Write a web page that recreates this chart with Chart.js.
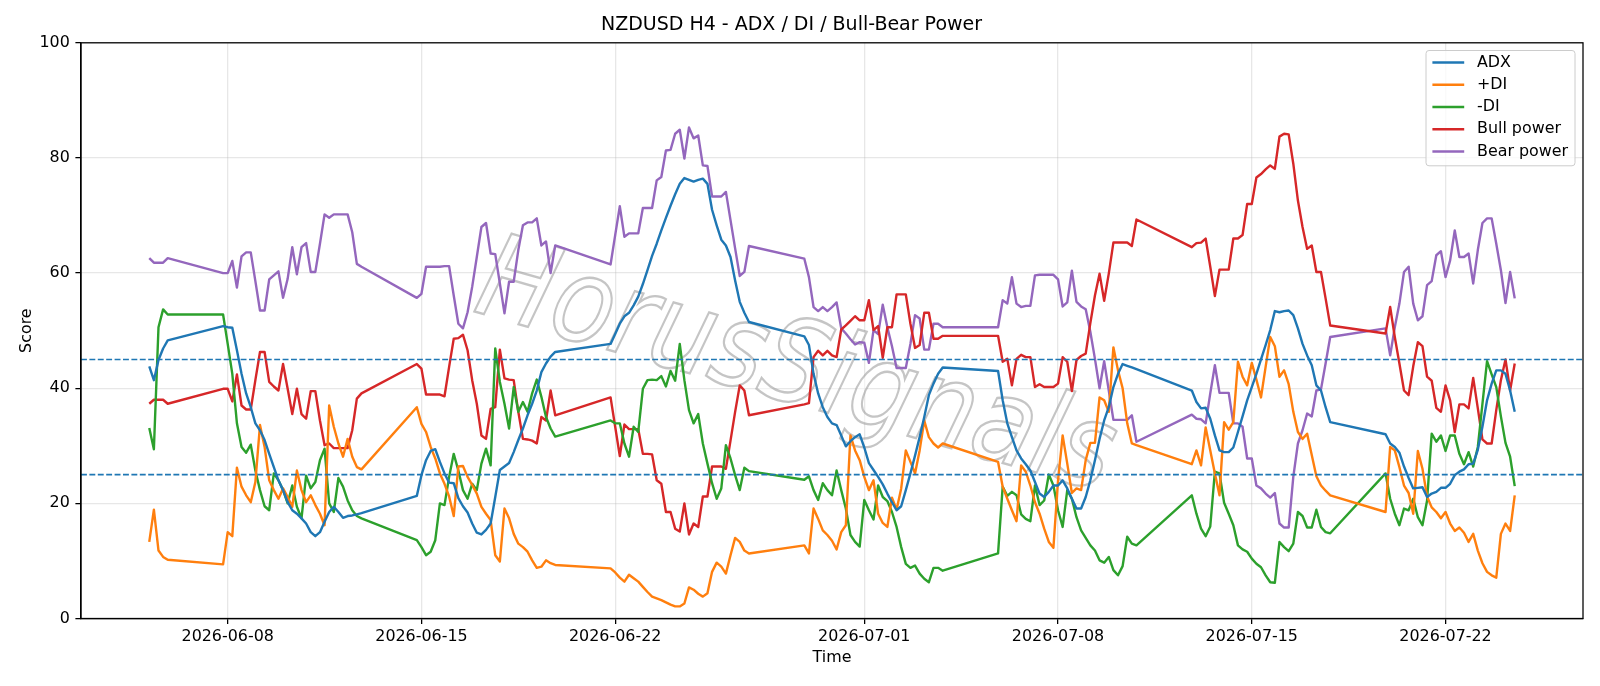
<!DOCTYPE html>
<html>
<head>
<meta charset="utf-8">
<script src="https://cdn.jsdelivr.net/npm/chart.js@4.4.1/dist/chart.umd.min.js"></script>
<style>
  html, body { margin: 0; padding: 0; background: #ffffff; }
  #wrap { width: 1600px; height: 686px; }
</style>
</head>
<body>
<div id="wrap"><canvas id="chart" width="1600" height="686"></canvas></div>
<script>
"use strict";

// H4 trading sessions (first bar, last bar), UTC
const sessions = [
    ["2026-06-05T04:00", "2026-06-05T20:00"],
    ["2026-06-07T20:00", "2026-06-12T20:00"],
    ["2026-06-14T20:00", "2026-06-19T20:00"],
    ["2026-06-21T20:00", "2026-06-26T20:00"],
    ["2026-06-28T20:00", "2026-07-03T20:00"],
    ["2026-07-05T20:00", "2026-07-10T20:00"],
    ["2026-07-12T20:00", "2026-07-17T20:00"],
    ["2026-07-19T20:00", "2026-07-24T12:00"]
];

const tickDates = ["2026-06-08", "2026-06-15", "2026-06-22", "2026-07-01", "2026-07-08", "2026-07-15", "2026-07-22"];
const yTicks = [0, 20, 40, 60, 80, 100];
const levels = [25, 45];

const adx = [
    43.8, 41.4, 44.9, 46.9, 48.3,
    50.8, 50.6, 50.5, 46.6, 42.5, 39.1, 36.7, 33.9, 32.7, 31.0, 28.6, 26.3, 24.0, 22.3, 20.2, 18.8, 18.2, 17.4, 16.5, 15.0, 14.3, 15.0, 16.8, 18.5, 19.4, 18.5, 17.5, 17.8, 17.9, 18.1, 18.3,
    21.3, 24.9, 27.5, 29.1, 29.4, 27.2, 25.2, 23.6, 23.5, 20.9, 19.5, 18.4, 16.5, 14.9, 14.6, 15.4, 16.5, 21.1, 25.8, 26.4, 27.0, 28.9, 31.0, 33.0, 35.3, 37.3, 39.6, 42.8, 44.3, 45.5, 46.3,
    47.7, 49.4, 51.2, 52.5, 53.1, 54.4, 55.9, 58.1, 60.5, 63.0, 65.1, 67.4, 69.6, 71.7, 73.7, 75.5, 76.5, 76.2, 75.9, 76.2, 76.4, 75.5, 71.0, 68.3, 65.8, 64.8, 62.8, 58.7, 55.0, 53.1, 51.5,
    49.0, 47.5, 42.5, 39.1, 36.7, 35.0, 33.9, 33.6, 31.8, 29.9, 30.8, 31.5, 32.0, 29.7, 27.0, 25.8, 24.6, 23.3, 21.7, 20.2, 18.8, 19.5, 22.3, 25.2, 28.3, 31.5, 35.0, 38.8, 40.8, 42.5, 43.6,
    43.0, 37.9, 33.9, 31.5, 29.2, 27.8, 26.8, 25.7, 23.7, 21.7, 21.1, 22.0, 23.1, 23.1, 24.0, 22.6, 20.8, 19.1, 19.1, 21.1, 24.0, 27.5, 31.2, 34.4, 36.7, 40.2, 42.5, 44.2, 43.9, 43.6, 43.3,
    39.6, 37.6, 36.5, 36.6, 34.7, 31.8, 29.2, 28.9, 28.9, 29.7, 32.4, 35.1, 37.9, 40.2, 42.5, 45.0, 47.5, 50.1, 53.4, 53.2, 53.4, 53.5, 52.7, 50.4, 47.7, 45.7, 44.0, 40.5, 39.6, 36.7, 34.1,
    32.0, 30.4, 29.8, 28.8, 26.4, 24.4, 22.6, 22.7, 22.8, 21.1, 21.7, 22.0, 22.7, 22.7, 23.4, 24.9, 25.5, 25.9, 26.8, 26.9, 29.3, 33.3, 37.9, 40.8, 43.1, 43.1, 42.5, 39.6, 35.9
];

const plusDI = [
    13.3, 18.9, 11.8, 10.7, 10.2,
    9.4, 15.0, 14.3, 26.2, 22.9, 21.4, 20.2, 23.7, 33.6, 29.8, 24.0, 22.3, 20.8, 22.6, 21.1, 19.4, 25.7, 22.3, 20.2, 21.4, 19.7, 18.2, 16.2, 37.0, 33.3, 30.4, 28.1, 31.2, 28.1, 26.3, 25.9,
    36.7, 33.8, 32.4, 29.8, 27.8, 25.2, 23.4, 21.2, 17.8, 26.4, 26.5, 24.6, 23.2, 21.7, 19.4, 18.2, 17.1, 11.0, 9.9, 19.1, 17.4, 14.7, 13.0, 12.4, 11.6, 10.1, 8.8, 9.0, 10.1, 9.6, 9.3,
    8.7, 8.0, 7.1, 6.4, 7.6, 7.0, 6.4, 5.5, 4.6, 3.8, 3.5, 3.2, 2.8, 2.4, 2.1, 2.1, 2.6, 5.4, 5.0, 4.3, 3.8, 4.4, 8.1, 9.7, 9.0, 7.8, 11.0, 14.0, 13.3, 11.8, 11.3,
    12.7, 11.3, 19.1, 17.3, 15.3, 14.5, 13.5, 12.0, 15.0, 16.2, 31.8, 29.2, 27.5, 24.6, 22.3, 24.0, 18.2, 16.6, 15.9, 21.0, 18.9, 22.6, 29.2, 27.2, 25.2, 29.2, 34.4, 31.5, 30.4, 29.7, 30.4,
    27.2, 22.9, 20.8, 18.8, 16.9, 26.6, 25.5, 23.1, 20.2, 18.2, 15.6, 13.3, 12.3, 24.0, 31.8, 26.9, 21.8, 22.6, 22.3, 27.5, 30.5, 30.5, 38.4, 37.9, 35.9, 47.1, 43.1, 40.0, 33.9, 30.4, 30.1,
    26.8, 29.2, 26.6, 33.2, 29.2, 25.2, 21.4, 34.1, 32.8, 34.1, 44.6, 42.0, 40.5, 44.4, 41.5, 38.4, 43.7, 48.9, 47.3, 42.0, 43.1, 40.7, 35.9, 32.4, 31.2, 32.1, 28.4, 24.7, 23.1, 22.2, 21.4,
    18.5, 29.8, 29.2, 26.3, 23.1, 21.8, 18.2, 29.1, 26.0, 21.2, 19.3, 18.5, 17.4, 18.5, 16.5, 15.2, 15.8, 14.9, 13.3, 14.7, 11.8, 9.6, 8.1, 7.5, 7.1, 14.7, 16.5, 15.2, 21.4
];

const minusDI = [
    33.1, 29.4, 50.6, 53.7, 52.8,
    52.8, 47.7, 42.5, 33.9, 29.8, 28.8, 30.2, 25.7, 22.3, 19.5, 18.8, 25.2, 24.0, 22.3, 20.0, 23.1, 19.4, 17.4, 24.8, 22.6, 23.7, 27.5, 29.5, 20.0, 18.5, 24.4, 22.9, 20.5, 18.8, 17.8, 17.4,
    13.6, 12.4, 11.0, 11.6, 13.6, 20.0, 19.7, 24.6, 28.6, 25.7, 22.3, 20.8, 23.4, 22.3, 26.9, 29.5, 26.6, 46.9, 41.1, 37.3, 33.0, 40.2, 35.9, 37.6, 35.9, 39.1, 41.5, 38.5, 35.0, 33.0, 31.6,
    34.4, 33.9, 33.9, 30.4, 28.1, 33.3, 32.4, 39.9, 41.4, 41.5, 41.4, 42.1, 40.3, 43.0, 41.3, 47.7, 41.4, 36.2, 33.9, 35.5, 30.4, 26.9, 23.5, 20.8, 22.6, 30.1, 27.8, 24.9, 22.3, 26.2, 25.6,
    24.1, 24.7, 22.3, 20.6, 23.5, 22.3, 21.4, 25.7, 22.3, 19.1, 14.5, 13.3, 12.5, 20.6, 18.8, 17.2, 23.1, 21.1, 20.4, 18.5, 15.9, 12.4, 9.5, 8.8, 9.2, 7.8, 6.9, 6.3, 8.8, 8.8, 8.3,
    11.3, 22.9, 21.3, 22.0, 21.4, 18.1, 17.3, 16.9, 23.1, 19.7, 20.5, 25.0, 23.1, 18.8, 15.9, 22.3, 20.8, 17.6, 15.3, 14.0, 12.7, 11.8, 10.1, 9.7, 10.7, 8.4, 7.5, 9.1, 14.2, 13.0, 12.7,
    21.4, 18.2, 15.6, 14.3, 16.0, 25.5, 25.2, 20.1, 18.2, 16.2, 12.7, 12.0, 11.6, 10.4, 9.5, 8.9, 7.5, 6.3, 6.2, 13.3, 12.4, 11.7, 13.0, 18.5, 17.8, 15.8, 15.8, 18.9, 15.9, 15.0, 14.8,
    25.2, 20.8, 18.2, 16.2, 19.1, 18.8, 20.8, 17.6, 16.2, 20.5, 32.1, 30.7, 31.8, 29.1, 31.8, 31.8, 28.6, 26.8, 28.9, 26.4, 29.8, 37.3, 44.7, 42.4, 40.2, 35.1, 30.5, 28.1, 23.0
];

const bullPower = [
    37.3, 38.0, 38.0, 38.0, 37.3,
    39.9, 39.9, 37.7, 42.4, 37.0, 36.3, 36.3, 41.4, 46.3, 46.3, 41.1, 40.3, 39.6, 44.2, 39.9, 35.5, 39.9, 35.5, 34.7, 39.5, 39.5, 34.4, 30.1, 30.4, 29.6, 29.6, 29.6, 29.6, 32.7, 38.2, 39.1,
    44.2, 43.4, 38.9, 38.9, 38.9, 38.9, 38.6, 43.7, 48.6, 48.7, 49.3, 46.6, 41.4, 37.3, 31.8, 31.2, 36.4, 36.7, 46.7, 41.7, 41.5, 41.4, 35.9, 31.2, 31.1, 30.9, 30.4, 35.0, 34.4, 39.6, 35.3,
    38.4, 33.3, 28.2, 33.7, 32.9, 32.9, 32.9, 28.6, 28.6, 28.5, 24.0, 23.4, 18.5, 18.5, 15.6, 15.1, 20.0, 14.6, 16.5, 15.9, 21.2, 21.2, 26.4, 26.4, 26.4, 26.0, 30.9, 35.9, 40.5, 39.6, 35.3,
    37.2, 37.4, 45.4, 46.5, 45.7, 46.5, 45.7, 45.4, 50.2, 50.9, 51.7, 52.5, 51.8, 51.8, 55.3, 50.1, 50.8, 45.3, 50.6, 50.6, 56.3, 56.3, 56.3, 51.2, 47.0, 47.5, 53.1, 53.1, 48.6, 48.6, 49.1,
    49.1, 44.6, 45.1, 40.5, 45.1, 45.8, 45.4, 45.4, 40.2, 40.7, 40.2, 40.2, 40.2, 40.8, 45.4, 44.6, 39.5, 44.9, 45.6, 46.0, 51.3, 56.1, 59.9, 55.2, 59.9, 65.3, 65.3, 65.3, 65.3, 64.7, 69.3,
    64.5, 65.2, 65.3, 66.0, 61.1, 56.0, 60.6, 60.6, 60.6, 66.0, 66.0, 66.6, 72.0, 72.0, 76.6, 77.2, 78.0, 78.7, 78.1, 83.7, 84.2, 84.1, 79.0, 72.6, 68.0, 64.2, 64.8, 60.2, 60.2, 55.6, 50.9,
    49.5, 54.1, 48.9, 44.3, 39.6, 38.8, 43.8, 48.0, 47.3, 42.0, 41.3, 36.6, 35.9, 40.5, 37.9, 32.4, 37.2, 37.2, 36.5, 41.8, 36.5, 31.1, 30.4, 30.4, 36.2, 41.4, 45.0, 39.6, 44.3
];

const bearPower = [
    62.6, 61.8, 61.8, 61.8, 62.6,
    60.0, 60.0, 62.1, 57.5, 62.9, 63.6, 63.6, 58.6, 53.5, 53.5, 58.9, 59.6, 60.3, 55.7, 59.0, 64.5, 59.8, 64.5, 65.2, 60.2, 60.2, 65.1, 70.2, 69.6, 70.2, 70.2, 70.2, 70.2, 67.1, 61.6, 61.1,
    55.7, 56.4, 61.1, 61.1, 61.1, 61.1, 61.2, 61.2, 56.1, 51.2, 50.4, 53.2, 57.6, 62.8, 68.0, 68.7, 63.4, 63.3, 58.2, 53.0, 58.5, 58.5, 64.0, 68.3, 68.8, 68.8, 69.5, 64.8, 65.5, 60.0, 64.8,
    61.5, 66.6, 71.6, 66.3, 66.9, 66.9, 66.9, 71.3, 71.3, 71.3, 76.1, 76.7, 81.3, 81.4, 84.2, 84.9, 79.9, 85.3, 83.4, 83.9, 78.7, 78.6, 73.3, 73.3, 73.3, 74.1, 69.2, 64.3, 59.5, 60.2, 64.7,
    62.5, 59.3, 54.1, 53.4, 54.1, 53.4, 54.1, 54.9, 50.4, 49.5, 48.5, 47.6, 48.0, 47.9, 44.4, 50.1, 49.4, 54.5, 50.6, 47.3, 43.5, 43.5, 43.5, 47.7, 52.7, 52.1, 46.7, 46.7, 51.2, 51.2, 50.6,
    50.6, 55.3, 54.7, 59.3, 54.7, 54.1, 54.3, 54.3, 59.6, 59.7, 59.7, 59.7, 59.7, 58.9, 54.2, 54.9, 60.4, 55.0, 54.2, 53.7, 49.8, 45.1, 40.0, 44.7, 39.6, 34.5, 34.5, 34.5, 34.5, 35.3, 30.7,
    35.4, 34.7, 34.6, 33.9, 39.1, 44.0, 39.2, 39.2, 39.2, 33.9, 33.9, 33.3, 27.8, 27.8, 23.1, 22.6, 21.7, 21.0, 21.8, 16.5, 15.8, 15.8, 24.6, 30.4, 32.7, 35.6, 35.1, 39.6, 39.8, 44.3, 48.9,
    50.4, 45.7, 50.6, 54.7, 60.2, 61.1, 54.7, 51.8, 52.5, 57.9, 58.6, 63.1, 63.8, 59.3, 62.2, 67.4, 62.8, 62.8, 63.4, 58.2, 64.0, 68.7, 69.5, 69.5, 65.1, 60.5, 54.8, 60.2, 55.6
];

// Expanding the sessions into 4-hour bar times
const H4 = 4 * 3600 * 1000;
let times = [];
for (let i = 0; i < sessions.length; i++) {
    let t = Date.parse(sessions[i][0] + ":00Z");
    let end = Date.parse(sessions[i][1] + ":00Z");
    for (; t <= end; t += H4) {
        times.push(t);
    }
}

function points(values) {
    return times.map((t, i) => ({ x: t, y: values[i] }));
}

// matplotlib-like 5% margins on x
let span = times[times.length - 1] - times[0];
let xMin = times[0] - span * 0.05;
let xMax = times[times.length - 1] + span * 0.05;

const font = { family: "'DejaVu Sans', sans-serif", size: 15.9 };

const extras = {
    id: "extras",
    beforeDatasetsDraw(chart) {
        // watermark
        let ctx = chart.ctx;
        ctx.save();
        ctx.translate(795, 372);
        ctx.rotate(16 * Math.PI / 180);
        ctx.scale(0.93, 1.08);
        ctx.font = "oblique 108px 'DejaVu Sans'";
        ctx.textAlign = "center";
        ctx.textBaseline = "middle";
        ctx.fillStyle = "rgba(255,255,255,0.5)";
        ctx.fillText("HorusSignals", 0, 0);
        ctx.lineWidth = 2.2;
        ctx.strokeStyle = "rgba(140,140,140,0.5)";
        ctx.strokeText("HorusSignals", 0, 0);
        ctx.restore();
    },
    afterDatasetsDraw(chart) {
        let ctx = chart.ctx;
        let area = chart.chartArea;
        let y = chart.scales.y;
        ctx.save();
        // threshold lines
        ctx.strokeStyle = "#1f77b4";
        ctx.lineWidth = 1.6;
        ctx.setLineDash([5.9, 2.5]);
        for (let i = 0; i < levels.length; i++) {
            let py = y.getPixelForValue(levels[i]);
            ctx.beginPath();
            ctx.moveTo(area.left, py);
            ctx.lineTo(area.right, py);
            ctx.stroke();
        }
        ctx.setLineDash([]);
        // frame
        ctx.strokeStyle = "#000";
        ctx.lineWidth = 1.27;
        ctx.strokeRect(area.left, area.top, area.right - area.left, area.bottom - area.top);

        // legend
        let sets = chart.data.datasets;
        let boxR = area.right - 8;
        let boxT = area.top + 7.7;
        let boxW = 149;
        let rowH = 22.25;
        let boxH = 115.3;
        let boxL = boxR - boxW;
        ctx.fillStyle = "rgba(255,255,255,0.8)";
        ctx.strokeStyle = "#cccccc";
        ctx.lineWidth = 1;
        ctx.beginPath();
        ctx.roundRect(boxL, boxT, boxW, boxH, 3);
        ctx.fill();
        ctx.stroke();
        ctx.font = "15.9px 'DejaVu Sans'";
        ctx.textBaseline = "middle";
        ctx.textAlign = "left";
        for (let i = 0; i < sets.length; i++) {
            let cy = boxT + 12 + i * rowH;
            ctx.strokeStyle = sets[i].borderColor;
            ctx.lineWidth = 2.4;
            ctx.beginPath();
            ctx.moveTo(boxL + 6.4, cy);
            ctx.lineTo(boxL + 38.2, cy);
            ctx.stroke();
            ctx.fillStyle = "#000";
            ctx.fillText(sets[i].label, boxL + 51, cy);
        }
        ctx.restore();
    }
};

function series(label, values, colour) {
    return {
        label: label,
        data: points(values),
        borderColor: colour,
        backgroundColor: colour,
        borderWidth: 2.4,
        pointRadius: 0,
        fill: false,
        tension: 0
    };
}

let chart = new Chart(document.getElementById("chart").getContext("2d"), {
    type: "line",
    data: {
        datasets: [
            series("ADX", adx, "#1f77b4"),
            series("+DI", plusDI, "#ff7f0e"),
            series("-DI", minusDI, "#2ca02c"),
            series("Bull power", bullPower, "#d62728"),
            series("Bear power", bearPower, "#9467bd")
        ]
    },
    options: {
        responsive: false,
        animation: false,
        devicePixelRatio: 1,
        parsing: false,
        layout: { padding: { left: 0, right: 17, top: 0, bottom: 0 } },
        elements: { line: { borderJoinStyle: "round", borderCapStyle: "butt" } },
        plugins: {
            legend: { display: false },
            tooltip: { enabled: false },
            title: {
                display: true,
                text: "NZDUSD H4 - ADX / DI / Bull-Bear Power",
                color: "#000",
                font: { family: "'DejaVu Sans', sans-serif", size: 19, weight: "normal", lineHeight: 1.2 },
                padding: { top: 14, bottom: 6 }
            }
        },
        scales: {
            x: {
                type: "linear",
                min: xMin,
                max: xMax,
                afterBuildTicks: function (scale) {
                    scale.ticks = tickDates.map(d => ({ value: Date.parse(d + "T00:00:00Z") }));
                },
                afterFit: function (scale) {
                    scale.height = 67.5;
                },
                ticks: {
                    autoSkip: false,
                    maxRotation: 0,
                    padding: 3,
                    color: "#000",
                    font: font,
                    callback: function (v) {
                        return new Date(v).toISOString().slice(0, 10);
                    }
                },
                grid: { color: "rgba(176,176,176,0.3)", lineWidth: 1.27, tickLength: 5.6, tickColor: "#000", tickWidth: 1.27 },
                border: { color: "#000", width: 1.27 },
                title: { display: true, text: "Time", color: "#000", font: font, padding: { top: 0, bottom: 18.5 } }
            },
            y: {
                min: 0,
                max: 100,
                afterBuildTicks: function (scale) {
                    scale.ticks = yTicks.map(v => ({ value: v }));
                },
                afterFit: function (scale) {
                    scale.width = 81;
                },
                ticks: { padding: 5.6, color: "#000", font: font },
                grid: { color: "rgba(176,176,176,0.3)", lineWidth: 1.27, tickLength: 5.6, tickColor: "#000", tickWidth: 1.27 },
                border: { color: "#000", width: 1.27 },
                title: { display: true, text: "Score", color: "#000", font: font, padding: { top: 17, bottom: 0 } }
            }
        }
    },
    plugins: [extras]
});
</script>
</body>
</html>
